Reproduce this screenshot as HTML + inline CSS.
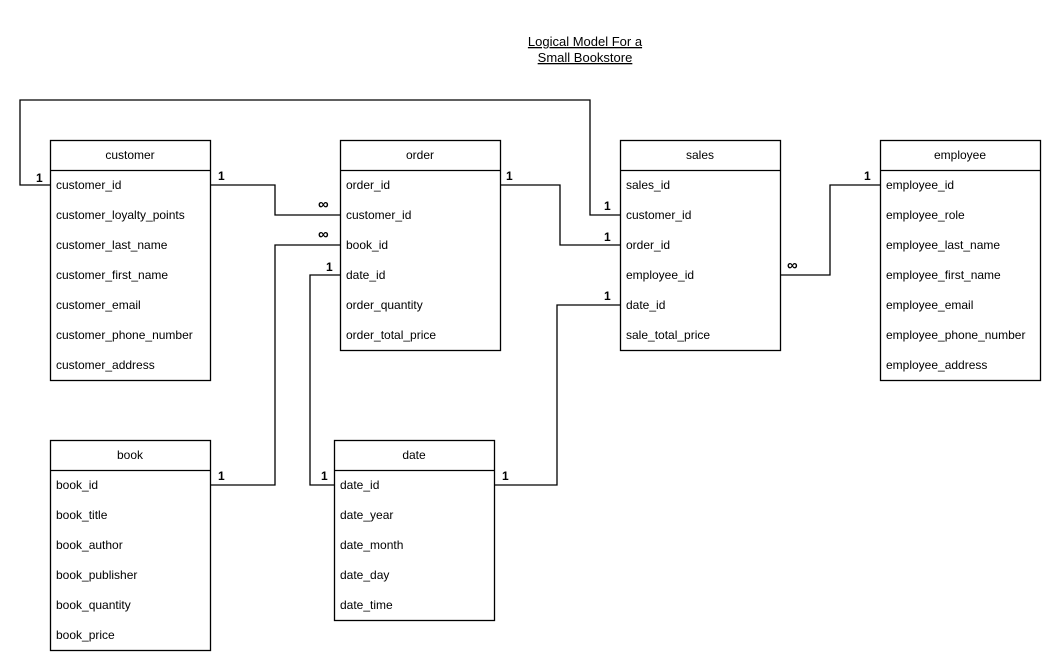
<!DOCTYPE html>
<html><head><meta charset="utf-8"><style>
body{margin:0;background:#fff}
svg{display:block}
text{font-family:"Liberation Sans",Arial,sans-serif;font-size:12px;fill:#000}
.b{font-weight:bold}
</style></head><body>
<svg width="1062" height="671" viewBox="0 0 1062 671" xmlns="http://www.w3.org/2000/svg">
<text x="585" y="46" text-anchor="middle" text-decoration="underline" style="font-size:13px">Logical Model For a</text>
<text x="585" y="62" text-anchor="middle" text-decoration="underline" style="font-size:13px">Small Bookstore</text>
<g fill="none" stroke="#000" stroke-width="1.3">
<polyline points="50,185 20,185 20,100 590,100 590,215 620,215"/>
<polyline points="210,185 275,185 275,215 340,215"/>
<polyline points="340,245 275,245 275,485 210,485"/>
<polyline points="340,275 310,275 310,485 334,485"/>
<polyline points="500,185 560,185 560,245 620,245"/>
<polyline points="494,485 557,485 557,305 620,305"/>
<polyline points="780,275 830,275 830,185 880,185"/>
<rect x="50.5" y="140.5" width="160" height="240"/><line x1="50" y1="170.5" x2="210" y2="170.5"/>
<rect x="340.5" y="140.5" width="160" height="210"/><line x1="340" y1="170.5" x2="500" y2="170.5"/>
<rect x="620.5" y="140.5" width="160" height="210"/><line x1="620" y1="170.5" x2="780" y2="170.5"/>
<rect x="880.5" y="140.5" width="160" height="240"/><line x1="880" y1="170.5" x2="1040" y2="170.5"/>
<rect x="50.5" y="440.5" width="160" height="210"/><line x1="50" y1="470.5" x2="210" y2="470.5"/>
<rect x="334.5" y="440.5" width="160" height="180"/><line x1="334" y1="470.5" x2="494" y2="470.5"/>
</g>
<g class="b">
<text x="36" y="182" class="b">1</text>
<text x="218" y="180" class="b">1</text>
<text x="318" y="209" class="b" style="font-size:15px">∞</text>
<text x="318" y="239" class="b" style="font-size:15px">∞</text>
<text x="326" y="271" class="b">1</text>
<text x="218" y="480" class="b">1</text>
<text x="321" y="480" class="b">1</text>
<text x="506" y="180" class="b">1</text>
<text x="604" y="210" class="b">1</text>
<text x="604" y="241" class="b">1</text>
<text x="604" y="300" class="b">1</text>
<text x="502" y="480" class="b">1</text>
<text x="787" y="270" class="b" style="font-size:15px">∞</text>
<text x="864" y="180" class="b">1</text>
</g>
<g text-anchor="middle">
<text x="130" y="159">customer</text><text x="420" y="159">order</text><text x="700" y="159">sales</text>
<text x="960" y="159">employee</text><text x="130" y="459">book</text><text x="414" y="459">date</text>
</g>
<g>
<text x="56" y="189">customer_id</text><text x="56" y="219">customer_loyalty_points</text><text x="56" y="249">customer_last_name</text><text x="56" y="279">customer_first_name</text><text x="56" y="309">customer_email</text><text x="56" y="339">customer_phone_number</text><text x="56" y="369">customer_address</text>
<text x="346" y="189">order_id</text><text x="346" y="219">customer_id</text><text x="346" y="249">book_id</text><text x="346" y="279">date_id</text><text x="346" y="309">order_quantity</text><text x="346" y="339">order_total_price</text>
<text x="626" y="189">sales_id</text><text x="626" y="219">customer_id</text><text x="626" y="249">order_id</text><text x="626" y="279">employee_id</text><text x="626" y="309">date_id</text><text x="626" y="339">sale_total_price</text>
<text x="886" y="189">employee_id</text><text x="886" y="219">employee_role</text><text x="886" y="249">employee_last_name</text><text x="886" y="279">employee_first_name</text><text x="886" y="309">employee_email</text><text x="886" y="339">employee_phone_number</text><text x="886" y="369">employee_address</text>
<text x="56" y="489">book_id</text><text x="56" y="519">book_title</text><text x="56" y="549">book_author</text><text x="56" y="579">book_publisher</text><text x="56" y="609">book_quantity</text><text x="56" y="639">book_price</text>
<text x="340" y="489">date_id</text><text x="340" y="519">date_year</text><text x="340" y="549">date_month</text><text x="340" y="579">date_day</text><text x="340" y="609">date_time</text>
</g>
</svg>
</body></html>
